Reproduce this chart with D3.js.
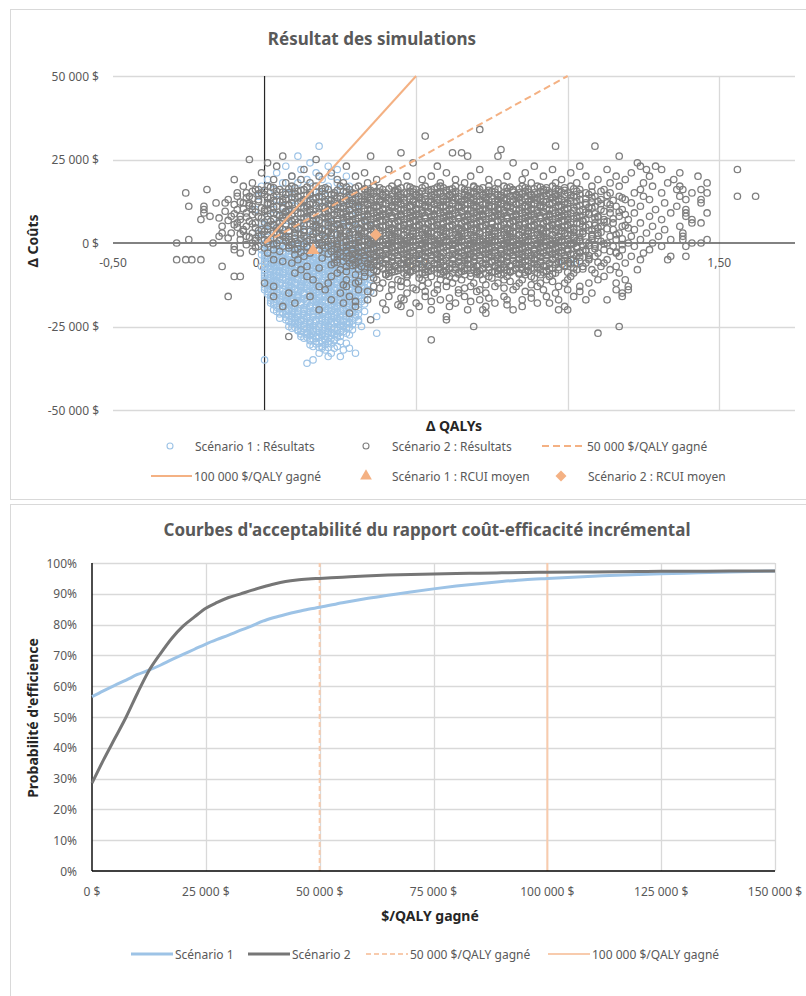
<!DOCTYPE html>
<html>
<head>
<meta charset="utf-8">
<script src="https://d3js.org/d3.v7.min.js"></script>
<style>
  body { margin: 0; background: #fff; }
  text { font-family: "Noto Sans", sans-serif; }
</style>
</head>
<body>
<div id="chart"></div>
<script>
// ---- scatter data ----
// each row: [Δ coûts in k$, "Δ QALYs x100 values at that cost"]
var scen1Rows = [
  [29, "18"], [26, "11"], [24, "15"], [23, "7 21"], [22, "12 24"], [21, "4 17"],
  [20, "9 22 27"], [19, "1 14 19"], [18, "6 11 24"], [17, "-1 16 21 28"], [16, "3 9 13 25"],
  [15, "7 18 23"], [14, "-2 11 15 20 27"], [13, "4 9 22 30"], [12, "1 13 17 25"],
  [11, "6 10 20 28"], [10, "-3 3 15 23 31"], [9, "8 12 18 26"], [8, "1 5 21 29"],
  [7, "10 14 24 33"], [6, "-1 4 17 22 27"], [5.5, "0 9 20 26"], [5, "7 12 30 35"],
  [4.5, "5 12 23 31"], [4, "2 15 19 25"], [3.5, "1 8 16 20 33"], [3, "-2 5 10 23 28"],
  [2.5, "4 11 24 28"], [2, "8 13 18 31"], [1.5, "-1 7 14 18 30"], [1, "0 3 21 26 34"],
  [0.5, "2 9 13 23 27 32"], [0, "6 11 16 29"], [-0.5, "0 5 11 17 21 29"],
  [-1, "1 9 14 19 24 32"], [-1.5, "3 7 10 15 26 30 34"], [-2, "-1 4 12 17 22 27 36"],
  [-2.5, "1 6 9 14 19 24 28 33"], [-3, "2 7 10 15 20 25 30"], [-3.5, "-1 4 8 12 17 21 26 31 35"],
  [-4, "0 5 13 18 23 28 33"], [-4.5, "2 6 10 14 19 24 29 33"], [-5, "3 8 11 16 21 26 31 38"],
  [-5.5, "0 5 9 13 18 23 28 32 36"], [-6, "1 6 14 19 24 29 34"], [-6.5, "3 7 11 15 20 25 30 34"],
  [-7, "-1 4 9 12 17 22 27 32"], [-7.5, "1 5 10 14 19 24 29 33"], [-8, "2 7 15 20 25 30 36"],
  [-8.5, "4 8 12 16 21 26 31 35"], [-9, "0 5 10 13 18 23 28 33"], [-9.5, "2 6 11 15 20 25 29 34"],
  [-10, "3 8 16 21 26 31"], [-10.5, "0 5 9 13 18 23 28 33"], [-11, "1 6 11 14 19 24 29 35"],
  [-11.5, "3 8 12 17 22 26 31"], [-12, "4 9 17 22 27 32"], [-12.5, "1 5 10 14 19 24 29 34"],
  [-13, "2 7 12 15 20 25 30"], [-13.5, "3 8 12 16 21 26 31"], [-14, "0 5 10 18 23 28 34"],
  [-14.5, "1 6 11 15 20 25 30 35"], [-15, "3 8 13 16 21 26 31"], [-15.5, "4 9 13 18 23 28 33"],
  [-16, "6 11 19 24 29"], [-16.5, "2 7 11 16 21 25 30"], [-17, "4 9 14 17 22 27 33"],
  [-17.5, "5 9 14 19 23 28 32"], [-18, "2 7 12 20 25 30"], [-18.5, "3 8 12 17 22 26 31"],
  [-19, "5 10 15 18 23 28"], [-19.5, "6 10 15 20 24 29"], [-20, "3 8 13 21 26 31"],
  [-20.5, "4 9 13 18 22 27 33"], [-21, "6 11 16 19 24 29"], [-21.5, "7 11 16 21 25 30"],
  [-22, "9 14 22 27 37"], [-22.5, "5 10 14 19 24 28"], [-23, "7 12 17 20 25 31"],
  [-23.5, "8 12 17 22 26 31"], [-24, "10 15 23 28"], [-24.5, "11 15 20 25 29"],
  [-25, "8 13 18 21 26 32"], [-25.5, "9 14 18 23 27"], [-26, "11 16 24 29"],
  [-26.5, "12 16 21 26"], [-27, "14 19 22 27 37"], [-27.5, "14 19 23 28"],
  [-28, "12 17 20 25"], [-28.5, "13 17 22"], [-29, "15 20 23"], [-29.5, "17 21 25"],
  [-30, "18 21 27"], [-30.5, "15 20"], [-31, "16 19 24"], [-31.5, "19 23 28"],
  [-32, "20 26"], [-33, "18 22 30"], [-34, "21 25"], [-35, "0 16"], [-36, "14"]
];

// extra scenario 1 points in the dense lower blue cloud
var scen1FillRows = [
  [-0.75, "4 13 19 26"], [-1.25, "1 8 12 20 24 31"], [-1.75, "5 11 17 22 28"],
  [-2.25, "3 8 13 20 26 31"], [-2.75, "0 4 11 16 22 30"], [-3.25, "3 6 14 19 24 29 34"],
  [-3.75, "1 10 15 19 24 33"], [-4.25, "3 8 11 16 21 26 31"], [-4.75, "0 4 12 17 22 27 31"],
  [-5.25, "2 7 10 15 20 25 30 34"], [-5.75, "3 7 11 16 21 26 30"], [-6.25, "0 4 9 12 17 22 27 32"],
  [-6.75, "2 5 9 13 18 23 28 32"], [-7.25, "0 3 7 11 16 21 26 31 35"], [-7.75, "2 8 12 17 22 27 31"],
  [-8.25, "0 5 10 14 18 23 28 33"], [-8.75, "2 6 10 14 19 24 29 33"], [-9.25, "3 8 12 16 21 26 31"],
  [-9.75, "0 4 9 13 18 23 27 32"], [-10.25, "2 6 11 15 20 25 30 35"], [-10.75, "3 7 11 16 21 25 30"],
  [-11.25, "0 4 9 13 17 22 27 32"], [-11.75, "1 5 10 14 19 24 29 33"], [-12.25, "2 7 12 16 21 26 30"],
  [-12.75, "3 8 12 17 22 26 32"], [-13.25, "0 4 9 13 18 23 28 33"], [-13.75, "1 6 10 14 19 24 29"],
  [-14.25, "3 8 12 16 21 26 31"], [-14.75, "4 9 13 17 22 27 32"], [-15.25, "1 6 11 15 20 24 29 34"],
  [-15.75, "2 7 11 16 21 26 31"], [-16.25, "4 9 14 18 23 27 32"], [-16.75, "5 9 13 18 23 28"],
  [-17.25, "2 7 11 16 20 25 30"], [-17.75, "3 8 12 17 21 26 30"], [-18.25, "5 10 14 18 23 28 33"],
  [-18.75, "6 10 15 19 24 29"], [-19.25, "4 8 13 17 22 26 31"], [-19.75, "5 9 14 18 23 27"],
  [-20.25, "7 11 16 20 25 29"], [-20.75, "6 10 15 20 24 29"], [-21.25, "5 9 13 18 22 27 31"],
  [-21.75, "8 13 18 23 27"], [-22.25, "7 11 16 21 25 30"], [-22.75, "9 13 18 22 27"],
  [-23.25, "10 15 19 24 29"], [-23.75, "11 15 20 24 28"], [-24.25, "9 13 18 22 27"],
  [-24.75, "12 16 21 26"], [-25.25, "10 15 20 24 28"], [-25.75, "13 17 21 26"],
  [-26.25, "11 15 19 24"], [-26.75, "14 18 22 25"], [-27.25, "12 16 21 24"],
  [-27.75, "15 19 22"], [-28.25, "14 18 24"], [-28.75, "16 20"], [-29.25, "15 19 23"],
  [-30.25, "17 22"], [-31.25, "18 21"]
];

var scen2Rows = [
  [34, "71"], [32, "53"], [29, "96 109"], [28, "78"], [27, "45 62 65"],
  [26, "6 35 67 77 117"], [25, "-5 17"], [24, "1 49 82 123"],
  [23, "4 27 57 89 104 124 129"], [22, "13 41 71 95 113 126 131 156"],
  [21, "-1 22 33 60 86 101 121 137"], [20, "9 18 30 47 55 68 80 92 106 116 127 143"],
  [19, "-10 3 12 24 37 52 63 74 85 98 110 119 135"],
  [18, "-4 7 15 26 34 44 58 66 77 88 96 103 114 125 133 146"],
  [17, "-7 1 9 17 25 31 36 42 47 53 58 63 69 74 79 85 90 95 101 108 117 128 137"],
  [16.5, "3 10 20 30 38 45 52 59 65 72 80 86 93 99"],
  [16, "-19 -3 -2 5 13 21 28 33 39 44 50 55 61 66 71 77 82 87 92 97 104 112 124 136 138 144"],
  [15.5, "-4 4 11 19 26 32 37 43 48 52 58 63 69 75 80 86 91 97 103 111"],
  [15, "-26 -9 -6 -1 8 15 23 29 35 40 46 51 57 62 68 73 79 84 89 94 100 106 114 122 131 141 146"],
  [14.5, "0 7 15 22 28 34 39 45 50 56 61 66 72 77 83 88 94 99 107"],
  [14, "-9 -5 3 11 18 25 31 37 42 48 53 59 64 70 75 81 86 91 96 102 109 117 125 137 156 162"],
  [13.5, "-6 2 10 17 24 30 35 41 46 51 57 63 68 73 79 84 90 95 101 108 118"],
  [13, "-12 -2 6 13 21 27 33 38 44 49 55 60 66 71 77 82 88 93 98 104 111 119 127 139 144"],
  [12.5, "-2 5 12 20 27 32 38 43 49 54 59 65 70 76 81 87 92 97 103 110"],
  [12, "-16 -13 -7 -5 1 9 16 23 29 35 40 46 51 57 62 68 73 78 84 89 95 100 106 113 121 132 144"],
  [11.5, "-10 1 8 15 22 29 34 39 45 50 56 61 66 72 77 83 88 94 99 106 114"],
  [11, "-25 -20 -4 4 12 19 26 31 37 42 48 53 59 64 70 75 80 86 91 97 103 109 116 124 136"],
  [10.5, "-1 6 13 20 25 31 36 42 47 53 58 64 69 74 80 85 91 96 102 108"],
  [10, "-20 -9 -4 0 8 15 22 28 34 39 45 50 56 61 67 72 77 83 88 94 99 105 111 118 129 139"],
  [9.5, "-13 0 7 14 21 27 33 38 43 49 54 60 65 71 76 81 87 92 98 104 112"],
  [9, "-20 -6 3 11 18 25 30 36 41 47 52 58 63 69 74 79 85 90 96 101 107 114 122 134 139 146"],
  [8.5, "-4 4 9 16 23 29 34 40 45 51 56 62 67 72 78 83 89 94 100 107 119"],
  [8, "-18 -11 -8 -2 7 14 21 27 33 38 44 49 55 60 66 71 76 82 87 93 98 104 110 117 127 139"],
  [7.5, "-15 -1 6 13 20 26 31 37 42 48 53 59 64 69 75 80 86 91 97 103 109"],
  [7, "-21 -8 1 10 17 24 29 35 40 46 51 57 62 68 73 78 84 89 95 100 106 112 120 131 141"],
  [6.5, "-5 2 9 16 22 28 33 39 44 50 55 61 66 71 77 82 88 93 99 105 113"],
  [6, "-9 -3 5 12 20 26 32 37 43 48 54 59 65 70 75 81 86 92 97 103 109 115 124 141 144"],
  [5.5, "-10 3 10 17 24 30 35 41 46 51 57 62 68 73 79 84 89 95 100 107"],
  [5, "-14 -6 1 9 16 23 28 34 39 45 50 56 61 67 72 77 83 88 94 99 105 111 118 128 137"],
  [4.5, "-3 4 11 18 25 31 37 42 48 53 59 64 70 75 80 86 91 97 102 110 120"],
  [4, "-7 -1 6 13 19 25 31 36 42 47 53 58 64 69 74 80 85 91 96 102 108 115 122 132"],
  [3.5, "-7 0 8 15 21 27 33 38 44 49 55 60 65 71 76 82 87 93 98 105"],
  [3, "-14 -11 -4 3 10 17 22 28 33 39 44 50 55 61 66 71 77 82 88 93 99 104 110 117 126 138"],
  [2.5, "-1 5 12 19 24 30 35 41 46 52 57 63 68 74 79 84 90 95 101 108 116"],
  [2, "-15 -6 -2 6 13 20 26 31 37 42 48 53 59 64 69 75 80 86 91 97 102 108 114 121 130 138"],
  [1.5, "-12 -3 3 10 18 25 31 36 42 47 53 58 64 69 74 80 85 91 96 102"],
  [1, "-25 -8 0 8 15 22 27 33 38 44 49 55 60 65 71 76 82 87 93 98 104 110 116 124 134 138 146"],
  [0.5, "1 7 14 21 27 33 38 44 49 55 60 65 71 76 82 87 93 98 104 111"],
  [0, "-29 -17 -4 4 11 18 24 30 35 41 46 52 57 62 68 73 79 84 90 95 101 107 113 120 128 141 144"],
  [-0.5, "-6 3 9 17 24 30 35 41 46 52 57 62 68 73 79 84 90 95 101 109 118"],
  [-1, "-10 -2 6 14 21 27 32 38 43 49 54 60 65 70 76 81 87 92 98 103 109 115 122 131 139"],
  [-1.5, "0 8 20 26 31 37 42 48 53 59 64 70 75 81 86 91 97 103"],
  [-2, "-10 3 10 18 24 29 35 40 46 51 57 62 67 73 78 84 89 95 100 106 112 118 127"],
  [-2.5, "-4 5 22 29 34 40 45 51 56 62 67 72 78 83 89 94 100 106 114"],
  [-3, "-8 1 15 27 32 38 43 49 54 59 65 70 76 81 87 92 98 104 110 116 125"],
  [-3.5, "10 24 30 36 41 47 52 57 63 68 74 79 85 90 96 102"],
  [-4, "13 26 31 37 42 48 53 58 64 69 75 80 86 91 97 103 109 117 121 134 139"],
  [-4.5, "19 27 33 38 44 49 55 60 66 71 77 82 88 93 99 107"],
  [-5, "-29 -26 -24 -21 3 11 24 29 35 40 46 51 57 62 67 73 78 84 89 95 101 107 113 124 133"],
  [-5.5, "6 26 31 37 42 48 53 59 64 69 75 80 86 91 98 104"],
  [-6, "9 23 28 34 39 45 50 56 61 66 72 77 83 88 94 100 106 112 119"],
  [-6.5, "22 30 35 41 46 52 57 63 68 73 79 84 90 96"],
  [-7, "-14 14 27 32 38 43 49 54 60 65 70 76 81 87 93 99 105 111 116"],
  [-7.5, "18 33 39 44 50 55 61 66 72 77 83 88 95 102"],
  [-8, "12 25 36 42 47 53 58 63 69 74 80 85 91 97 103 108 114 123"],
  [-8.5, "27 37 43 48 54 59 65 70 76 81 87 93"],
  [-9, "10 24 35 41 46 52 57 62 68 73 79 84 90 96 102 109 117"],
  [-9.5, "30 40 47 53 60 66 71 78 86 91"],
  [-10, "-10 -8 14 22 33 41 47 55 61 68 74 80 88 94 101 112"],
  [-10.5, "36 51 63 75 89"],
  [-11, "16 27 37 44 52 58 65 72 79 85 93 100 110 119"],
  [-11.5, "31 45 60 81 95"],
  [-12, "0 21 30 39 47 54 62 69 77 84 91 99 107 116"],
  [-12.5, "26 42 57 73 88"],
  [-13, "3 18 27 36 45 52 60 68 76 83 90 97 104 120"],
  [-13.5, "38 49 66 79"],
  [-14, "20 31 42 50 57 64 71 82 92 100 116 120"],
  [-14.5, "34 53 70 86 104"],
  [-15, "8 25 36 47 56 64 73 88 96 108 118"],
  [-16, "-12 3 15 28 41 53 66 79 93 102 118"],
  [-16.5, "45 61 74 88"],
  [-17, "22 34 46 58 71 80 85 97 106 113"],
  [-17.5, "30 55 68"],
  [-18, "10 26 39 50 63 76 90 94"],
  [-18.5, "44 80"],
  [-19, "6 30 45 51 61 73 85 99"],
  [-20, "18 40 55 67 72 82 97 100"],
  [-21, "28 48 73"], [-22, "60"], [-23, "35 60"], [-25, "69 117"],
  [-27, "110"], [-28, "8"], [-29, "55"]
];

// extra scenario 2 points filling the dense grey core
var scen2FillRows = [
  [16.75, "2 14 27 36 48 57 69 81 91"],
  [16.25, "8 19 33 41 49 56 62 70 76 84 89 96 102"],
  [15.75, "0 12 24 35 43 54 60 67 74 82 93 99"],
  [15.25, "6 17 27 34 38 44 49 55 60 66 71 76 82 87 92 98 108"],
  [14.75, "-2 10 20 30 36 42 47 53 58 63 69 74 80 85 90 96 104"],
  [14.25, "4 14 23 33 39 44 50 55 61 67 72 78 83 88 93 101 113"],
  [13.75, "1 9 19 28 34 40 45 51 56 62 67 73 78 84 89 95 103"],
  [13.25, "-4 7 16 25 32 37 43 48 53 59 64 69 75 80 86 91 97 106"],
  [12.75, "3 13 22 29 35 41 46 52 57 62 68 74 79 85 90 96 101 115"],
  [12.25, "-8 6 18 26 33 38 44 49 55 60 65 71 77 82 87 93 99 108"],
  [11.75, "2 11 21 28 34 40 45 51 56 62 67 73 78 83 89 94 100 111"],
  [11.25, "-5 8 17 24 31 36 42 48 53 58 64 69 74 80 86 91 97 104"],
  [10.75, "3 14 23 30 37 43 48 54 59 65 70 76 81 87 92 98 107"],
  [10.25, "-7 6 18 26 33 39 44 50 55 61 66 71 77 82 88 93 100 114"],
  [9.75, "1 10 21 28 35 41 46 52 57 62 68 73 79 84 90 95 102"],
  [9.25, "-3 7 15 24 31 37 43 48 54 59 65 70 76 81 86 92 97 106 117"],
  [8.75, "-10 2 12 20 27 34 39 45 50 56 61 67 72 77 83 88 94 99 109"],
  [8.25, "5 16 24 31 37 42 48 53 59 64 70 75 80 86 91 97 103"],
  [7.75, "-6 8 19 27 34 40 45 51 56 61 67 72 78 83 89 94 100 110"],
  [7.25, "3 14 22 30 36 42 47 53 58 64 69 74 80 85 91 96 102 115"],
  [6.75, "-12 6 18 26 33 38 44 49 55 60 66 71 77 82 87 93 98 105"],
  [6.25, "0 11 21 29 35 41 46 52 57 63 68 73 79 84 90 95 101 112"],
  [5.75, "-4 7 15 24 32 37 43 48 54 59 65 70 75 81 86 92 97 104"],
  [5.25, "3 13 21 28 35 40 46 51 57 62 67 73 78 84 89 95 100 109 119"],
  [4.75, "-9 5 17 26 33 38 44 49 55 60 66 71 76 82 87 93 98 106"],
  [4.25, "1 10 22 29 35 41 46 52 57 63 68 74 79 84 90 95 101 113"],
  [3.75, "-2 8 18 25 32 38 43 49 54 59 65 70 76 81 87 92 98 107"],
  [3.25, "4 13 21 29 36 41 47 52 58 63 68 74 79 85 90 96 102 111"],
  [2.75, "-8 6 16 25 32 38 43 49 54 60 65 71 76 81 87 92 99 105"],
  [2.25, "1 10 22 28 35 40 46 51 57 62 67 73 78 84 89 95 100 110"],
  [1.75, "-5 7 16 25 31 37 43 48 54 59 64 70 75 81 86 92 97 104"],
  [1.25, "2 12 20 28 34 40 45 51 56 62 67 72 78 83 89 94 100 108 118"],
  [0.75, "-3 5 16 24 31 37 42 48 53 59 64 69 75 80 86 91 97 103"],
  [0.25, "9 19 27 34 39 45 50 56 61 66 72 77 82 88 93 99 106"],
  [-0.25, "1 13 22 29 36 42 47 53 58 63 69 74 80 85 91 96 102 112"],
  [-0.75, "8 19 27 33 39 44 50 55 61 66 71 77 82 88 93 99 107"],
  [-1.25, "-3 14 24 31 36 42 47 53 58 64 69 74 80 85 91 96 103"],
  [-1.75, "11 23 29 34 40 45 51 56 62 67 72 78 83 89 94 100 109"],
  [-2.25, "18 27 33 38 44 49 55 60 66 71 76 82 87 93 98 105"],
  [-2.75, "12 25 31 37 42 48 53 59 64 69 75 80 86 91 97 104 116"],
  [-3.25, "21 29 35 40 46 51 57 62 68 73 78 84 89 95 101"],
  [-3.75, "28 33 39 44 50 55 61 66 71 77 82 88 93 99 107"],
  [-4.25, "23 31 36 42 47 53 58 64 69 74 80 85 91 96 104"],
  [-4.75, "29 35 40 46 51 57 62 67 73 78 84 89 95 102"],
  [-5.25, "33 38 44 49 55 60 66 71 76 82 87 93 99"],
  [-5.75, "24 30 36 42 47 53 58 64 69 75 80 85 91 97 110"],
  [-6.25, "34 40 45 51 56 62 67 73 78 83 89 94 101"],
  [-6.75, "29 37 43 48 54 59 65 70 76 81 86 92 99"],
  [-7.25, "35 41 47 52 58 63 69 74 79 85 90 97"],
  [-7.75, "31 39 45 50 56 61 67 72 78 83 89 94 105"],
  [-8.25, "37 44 49 55 60 66 71 77 82 87 93"],
  [-8.75, "33 42 48 53 59 64 70 75 81 86 92 100"],
  [-9.25, "40 51 58 64 70 77 84 95"]
];

// mean ICER points (Δ QALYs, Δ coûts $)
var scen1Mean = [0.16, -2200];
var scen2Mean = [0.367, 2500];

// WTP thresholds ($/QALY)
var wtpValues = [50000, 100000];
var wtpLabels = ["50 000 $/QALY gagné", "100 000 $/QALY gagné"];

// ---- acceptability curves ----
var lambdas = [0, 2500, 5000, 7500, 10000, 12500, 15000, 17500, 20000, 22500, 25000, 27500,
  30000, 32500, 35000, 37500, 40000, 42500, 45000, 47500, 50000, 55000, 60000, 65000, 70000,
  75000, 80000, 85000, 90000, 95000, 100000, 110000, 120000, 125000, 130000, 140000, 150000];
var ceacScen1 = [0.566, 0.585, 0.603, 0.620, 0.638, 0.652, 0.668, 0.686, 0.703, 0.720, 0.737, 0.752,
  0.766, 0.781, 0.795, 0.811, 0.823, 0.833, 0.842, 0.850, 0.856, 0.871, 0.884, 0.895, 0.906,
  0.916, 0.925, 0.933, 0.940, 0.946, 0.950, 0.957, 0.963, 0.965, 0.967, 0.971, 0.974];
var ceacScen2 = [0.285, 0.36, 0.43, 0.50, 0.578, 0.65, 0.705, 0.755, 0.795, 0.825, 0.853, 0.872,
  0.888, 0.899, 0.911, 0.922, 0.932, 0.940, 0.945, 0.948, 0.950, 0.954, 0.958, 0.961, 0.963,
  0.964, 0.966, 0.967, 0.968, 0.969, 0.970, 0.971, 0.972, 0.973, 0.973, 0.974, 0.974];

// tick values
var qalyTicks = [-0.5, 0, 0.5, 1, 1.5];
var costTicks = [-50000, -25000, 0, 25000, 50000];
var wtpTicks = [0, 25000, 50000, 75000, 100000, 125000, 150000];
var probTicks = [0, 0.1, 0.2, 0.3, 0.4, 0.5, 0.6, 0.7, 0.8, 0.9, 1];

var BLUE = "#9dc3e6", GREY = "#7f7f7f", ORANGE = "#f4b183", PEACH = "#f8cbad";
var GRID = "#d9d9d9", LABEL = "#595959";

function unpack(rows) {
  var out = [];
  rows.forEach(function(r) {
    r[1].trim().split(/\s+/).forEach(function(v) {
      out.push({ q: +v / 100, c: r[0] * 1000 });
    });
  });
  return out;
}
var scen1Pts = unpack(scen1Rows.concat(scen1FillRows));
var scen2Pts = unpack(scen2Rows.concat(scen2FillRows));

var money = function(v) {
  return (v < 0 ? "-" : "") + d3.format(",")(Math.abs(v)).replace(/,/g, " ") + " $";
};
var qalyFmt = function(v) {
  return (v < 0 ? "-" : "") + d3.format(".2f")(Math.abs(v)).replace(".", ",");
};

var svg = d3.select("#chart").append("svg")
  .attr("width", 806).attr("height", 996);

// chart frames
svg.append("rect").attr("x", 10.5).attr("y", 9.5).attr("width", 820).attr("height", 490)
  .attr("fill", "none").attr("stroke", GRID);
svg.append("rect").attr("x", 10.5).attr("y", 504.5).attr("width", 820).attr("height", 520)
  .attr("fill", "none").attr("stroke", GRID);

// ================= Chart 1 : scatter =================
var x1 = d3.scaleLinear().domain([-0.5, 1.75]).range([113, 795]);
var y1 = d3.scaleLinear().domain([-50000, 50000]).range([410, 76]);
var g1 = svg.append("g");

g1.append("text").attr("x", 372).attr("y", 38).attr("text-anchor", "middle")
  .attr("dominant-baseline", "central").attr("font-size", "17px").attr("font-weight", "bold")
  .attr("fill", LABEL).text("Résultat des simulations");

// gridlines
g1.selectAll(".hgrid").data(costTicks.filter(function(d) { return d !== 0; })).enter()
  .append("line").attr("x1", x1(-0.5)).attr("x2", x1(1.75))
  .attr("y1", function(d) { return Math.round(y1(d)) + 0.5; })
  .attr("y2", function(d) { return Math.round(y1(d)) + 0.5; })
  .attr("stroke", GRID).attr("stroke-width", 1.3);
g1.selectAll(".vgrid").data([0.5, 1, 1.5]).enter()
  .append("line").attr("y1", y1(50000)).attr("y2", y1(-50000))
  .attr("x1", function(d) { return Math.round(x1(d)) + 0.5; })
  .attr("x2", function(d) { return Math.round(x1(d)) + 0.5; })
  .attr("stroke", GRID).attr("stroke-width", 1.3);

// tick labels (drawn behind the points, as in the original)
g1.selectAll(".ylab").data(costTicks).enter().append("text")
  .attr("x", 99).attr("y", function(d) { return y1(d); })
  .attr("text-anchor", "end").attr("dominant-baseline", "central")
  .attr("font-size", "12px").attr("fill", LABEL).text(money);
g1.selectAll(".xlab").data(qalyTicks).enter().append("text")
  .attr("x", function(d) { return x1(d); }).attr("y", y1(0) + 19)
  .attr("text-anchor", "middle").attr("dominant-baseline", "central")
  .attr("font-size", "12px").attr("fill", LABEL).text(qalyFmt);

// axes through the origin
g1.append("line").attr("x1", x1(-0.5)).attr("x2", x1(1.75))
  .attr("y1", y1(0)).attr("y2", y1(0)).attr("stroke", "#595959").attr("stroke-width", 1.6);
g1.append("line").attr("x1", x1(0)).attr("x2", x1(0))
  .attr("y1", y1(50000)).attr("y2", y1(-50000)).attr("stroke", "#262626").attr("stroke-width", 1.2);

// points
g1.append("g").selectAll("circle").data(scen1Pts).enter().append("circle")
  .attr("cx", function(d) { return x1(d.q); }).attr("cy", function(d) { return y1(d.c); })
  .attr("r", 3.2).attr("fill", "none").attr("stroke", BLUE).attr("stroke-width", 1.2);
g1.append("g").selectAll("circle").data(scen2Pts).enter().append("circle")
  .attr("cx", function(d) { return x1(d.q); }).attr("cy", function(d) { return y1(d.c); })
  .attr("r", 3.2).attr("fill", "none").attr("stroke", GREY).attr("stroke-width", 1.3);

// WTP threshold lines through origin
var line1 = d3.line().x(function(d) { return x1(d[0]); }).y(function(d) { return y1(d[1]); });
wtpValues.forEach(function(w, i) {
  g1.append("path").datum([[0, 0], [50000 / w, 50000]]).attr("d", line1)
    .attr("fill", "none").attr("stroke", ORANGE).attr("stroke-width", 2)
    .attr("stroke-dasharray", i === 0 ? "7,4" : null);
});

// mean ICER markers
g1.append("path").attr("d", d3.symbol().type(d3.symbolTriangle).size(70)())
  .attr("transform", "translate(" + x1(scen1Mean[0]) + "," + y1(scen1Mean[1]) + ")")
  .attr("fill", ORANGE);
g1.append("path").attr("d", d3.symbol().type(d3.symbolSquare).size(72)())
  .attr("transform", "translate(" + x1(scen2Mean[0]) + "," + y1(scen2Mean[1]) + ") rotate(45)")
  .attr("fill", ORANGE);

// axis titles
g1.append("text").attr("transform", "translate(32,241) rotate(-90)")
  .attr("text-anchor", "middle").attr("dominant-baseline", "central")
  .attr("font-size", "14px").attr("font-weight", "bold").attr("fill", "#262626").text("Δ Coûts");
g1.append("text").attr("x", 454).attr("y", 425).attr("text-anchor", "middle")
  .attr("dominant-baseline", "central").attr("font-size", "14px").attr("font-weight", "bold")
  .attr("fill", "#262626").text("Δ QALYs");

// legend
var leg1 = g1.append("g").attr("font-size", "12px").attr("fill", LABEL);
function legText(g, x, y, t) {
  g.append("text").attr("x", x).attr("y", y).attr("dominant-baseline", "central")
    .attr("fill", LABEL).text(t);
}
leg1.append("circle").attr("cx", 170).attr("cy", 446).attr("r", 3).attr("fill", "none")
  .attr("stroke", BLUE).attr("stroke-width", 1.1);
legText(leg1, 195, 446, "Scénario 1 : Résultats");
leg1.append("circle").attr("cx", 366).attr("cy", 446).attr("r", 3).attr("fill", "none")
  .attr("stroke", GREY).attr("stroke-width", 1.1);
legText(leg1, 392, 446, "Scénario 2 : Résultats");
leg1.append("line").attr("x1", 542).attr("x2", 584).attr("y1", 446).attr("y2", 446)
  .attr("stroke", ORANGE).attr("stroke-width", 2).attr("stroke-dasharray", "7,4");
legText(leg1, 587, 446, wtpLabels[0]);
leg1.append("line").attr("x1", 151).attr("x2", 192).attr("y1", 476).attr("y2", 476)
  .attr("stroke", ORANGE).attr("stroke-width", 2);
legText(leg1, 194, 476, wtpLabels[1]);
leg1.append("path").attr("d", d3.symbol().type(d3.symbolTriangle).size(60)())
  .attr("transform", "translate(366,476)").attr("fill", ORANGE);
legText(leg1, 392, 476, "Scénario 1 : RCUI moyen");
leg1.append("path").attr("d", d3.symbol().type(d3.symbolSquare).size(60)())
  .attr("transform", "translate(561,476) rotate(45)").attr("fill", ORANGE);
legText(leg1, 588, 476, "Scénario 2 : RCUI moyen");

// ================= Chart 2 : acceptability curves =================
var x2 = d3.scaleLinear().domain([0, 150000]).range([92, 775]);
var y2 = d3.scaleLinear().domain([0, 1]).range([871, 563]);
var g2 = svg.append("g");

g2.append("text").attr("x", 427).attr("y", 529).attr("text-anchor", "middle")
  .attr("dominant-baseline", "central").attr("font-size", "17px").attr("font-weight", "bold")
  .attr("fill", LABEL).text("Courbes d'acceptabilité du rapport coût-efficacité incrémental");

g2.selectAll(".hgrid").data(probTicks.slice(1)).enter().append("line")
  .attr("x1", x2(0)).attr("x2", x2(150000))
  .attr("y1", function(d) { return Math.round(y2(d)) + 0.5; })
  .attr("y2", function(d) { return Math.round(y2(d)) + 0.5; })
  .attr("stroke", GRID).attr("stroke-width", 1.3);
g2.selectAll(".vgrid").data(wtpTicks.slice(1)).enter().append("line")
  .attr("y1", y2(0)).attr("y2", y2(1))
  .attr("x1", function(d) { return Math.round(x2(d)) + 0.5; })
  .attr("x2", function(d) { return Math.round(x2(d)) + 0.5; })
  .attr("stroke", GRID).attr("stroke-width", 1.3);

g2.selectAll(".ylab").data(probTicks).enter().append("text")
  .attr("x", 77).attr("y", function(d) { return y2(d); })
  .attr("text-anchor", "end").attr("dominant-baseline", "central")
  .attr("font-size", "12px").attr("fill", LABEL).text(d3.format(".0%"));
g2.selectAll(".xlab").data(wtpTicks).enter().append("text")
  .attr("x", function(d) { return x2(d); }).attr("y", 891)
  .attr("text-anchor", "middle").attr("dominant-baseline", "central")
  .attr("font-size", "12px").attr("fill", LABEL).text(money);

// threshold verticals
wtpValues.forEach(function(w, i) {
  g2.append("line").attr("x1", x2(w)).attr("x2", x2(w)).attr("y1", y2(0)).attr("y2", y2(1))
    .attr("stroke", PEACH).attr("stroke-width", 2)
    .attr("stroke-dasharray", i === 0 ? "5,3" : null);
});

// axes
g2.append("line").attr("x1", x2(0)).attr("x2", x2(150000)).attr("y1", y2(0)).attr("y2", y2(0))
  .attr("stroke", "#000").attr("stroke-width", 1.6);
g2.append("line").attr("x1", x2(0)).attr("x2", x2(0)).attr("y1", y2(0)).attr("y2", y2(1))
  .attr("stroke", "#000").attr("stroke-width", 1.4);

var line2 = d3.line().x(function(d) { return x2(d[0]); }).y(function(d) { return y2(d[1]); })
  .curve(d3.curveMonotoneX);
[[ceacScen1, BLUE], [ceacScen2, "#767676"]].forEach(function(s) {
  g2.append("path").datum(lambdas.map(function(l, i) { return [l, s[0][i]]; }))
    .attr("d", line2).attr("fill", "none").attr("stroke", s[1]).attr("stroke-width", 3)
    .attr("stroke-linejoin", "round");
});

g2.append("text").attr("transform", "translate(32,718) rotate(-90)")
  .attr("text-anchor", "middle").attr("dominant-baseline", "central")
  .attr("font-size", "14px").attr("font-weight", "bold").attr("fill", "#262626")
  .text("Probabilité d'efficience");
g2.append("text").attr("x", 430).attr("y", 915).attr("text-anchor", "middle")
  .attr("dominant-baseline", "central").attr("font-size", "14px").attr("font-weight", "bold")
  .attr("fill", "#262626").text("$/QALY gagné");

var leg2 = g2.append("g").attr("font-size", "12px");
var leg2Items = [
  { x: 131, t: "Scénario 1", c: BLUE, w: 3, dash: null },
  { x: 248, t: "Scénario 2", c: "#767676", w: 3, dash: null },
  { x: 366, t: wtpLabels[0], c: PEACH, w: 2, dash: "5,3" },
  { x: 548, t: wtpLabels[1], c: PEACH, w: 2, dash: null }
];
leg2Items.forEach(function(d) {
  leg2.append("line").attr("x1", d.x).attr("x2", d.x + 42).attr("y1", 954).attr("y2", 954)
    .attr("stroke", d.c).attr("stroke-width", d.w).attr("stroke-dasharray", d.dash);
  legText(leg2, d.x + 44, 954, d.t);
});
</script>
</body>
</html>
